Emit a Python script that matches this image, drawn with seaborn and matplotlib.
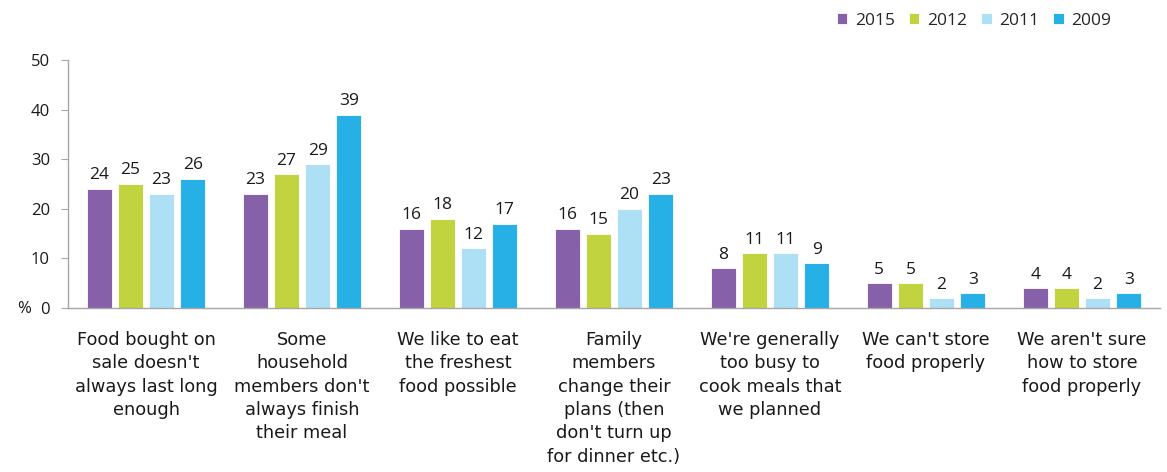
import matplotlib
matplotlib.use("Agg")
import matplotlib.pyplot as plt
import seaborn as sns
import pandas as pd

categories = [
    "Food bought on\nsale doesn't\nalways last long\nenough",
    "Some\nhousehold\nmembers don't\nalways finish\ntheir meal",
    "We like to eat\nthe freshest\nfood possible",
    "Family\nmembers\nchange their\nplans (then\ndon't turn up\nfor dinner etc.)",
    "We're generally\ntoo busy to\ncook meals that\nwe planned",
    "We can't store\nfood properly",
    "We aren't sure\nhow to store\nfood properly",
]
years = ["2015", "2012", "2011", "2009"]
values_2015 = [24, 23, 16, 16, 8, 5, 4]
values_2012 = [25, 27, 18, 15, 11, 5, 4]
values_2011 = [23, 29, 12, 20, 11, 2, 2]
values_2009 = [26, 39, 17, 23, 9, 3, 3]
colors = ["#8660A8", "#C2D340", "#AEE0F5", "#26B0E6"]

series = dict(zip(years, [values_2015, values_2012, values_2011, values_2009]))
rows = []
for y, vals in series.items():
    for c, v in zip(categories, vals):
        rows.append({"reason": c, "year": y, "pct": v})
df = pd.DataFrame(rows)

sns.set_style("white")
plt.rcParams["font.family"] = ["Open Sans", "DejaVu Sans"]

fig = plt.figure(figsize=(11.67, 4.72), dpi=100)
ax = fig.add_axes([68 / 1167, 1 - 308 / 472, 1092 / 1167, 248 / 472])

sns.barplot(data=df, x="reason", y="pct", hue="year", hue_order=years,
            order=categories, palette=colors, saturation=1, width=0.8, gap=0.2,
            edgecolor="white", linewidth=0.6, ax=ax, errorbar=None)

for cont in ax.containers:
    ax.bar_label(cont, fmt="%d", padding=4, fontsize=12.5, color="#1a1a1a")

ax.set_ylim(0, 50)
ax.set_yticks(range(0, 51, 10))
ax.set_xlim(-0.5, len(categories) - 0.5)
ax.set_xlabel("")
ax.set_ylabel("")
for s in ["top", "right"]:
    ax.spines[s].set_visible(False)
for s in ["left", "bottom"]:
    ax.spines[s].set_color("#A6A6A6")
    ax.spines[s].set_linewidth(1)
ax.tick_params(axis="y", left=True, length=5, color="#A6A6A6", labelsize=12,
               labelcolor="#1a1a1a", pad=8)
ax.tick_params(axis="x", bottom=False, labelsize=12.8, labelcolor="#1a1a1a", pad=13)
for lab in ax.get_xticklabels():
    lab.set_family(["DejaVu Sans"])
    lab.set_linespacing(1.38)
    lab.set_verticalalignment("top")

fig.text(17 / 1167, 1 - 309 / 472, "%", fontsize=12, color="#1a1a1a",
         ha="left", va="center")

ax.legend(loc="upper left", bbox_to_anchor=(830 / 1167, 1 - 6 / 472),
          bbox_transform=fig.transFigure, ncol=4, frameon=False,
          fontsize=12.5, handlelength=0.6, handleheight=0.6,
          handletextpad=0.45, columnspacing=0.8, borderaxespad=0)

fig.savefig("out.png", dpi=100)
